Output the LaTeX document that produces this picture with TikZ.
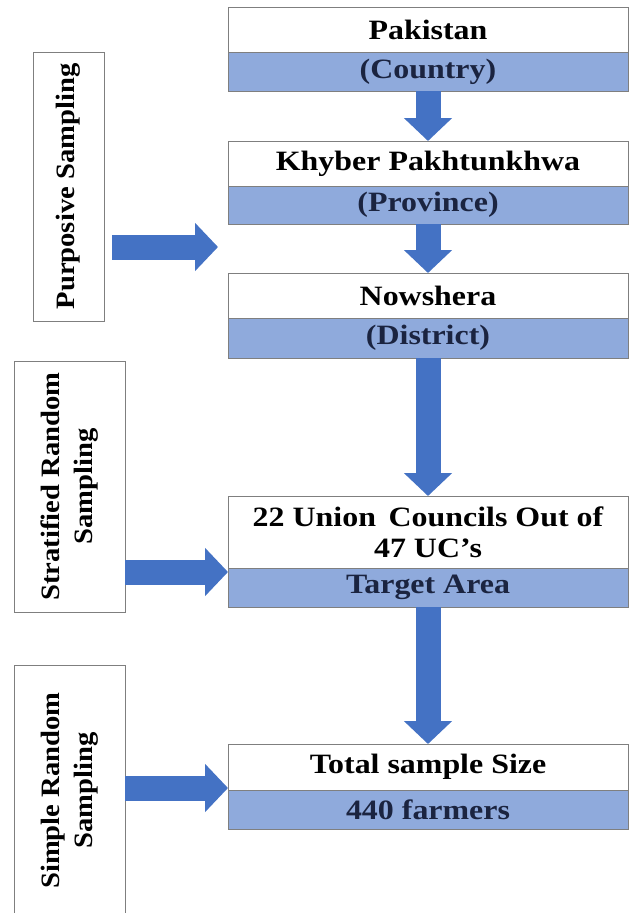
\documentclass[tikz,border=0pt]{standalone}
\usepackage{fontspec}
\setmainfont{Liberation Serif}
\newfontfamily\stagefont{Liberation Serif}[FakeStretch=1.14]
\newfontfamily\methodfont{Liberation Serif}[FakeStretch=1.08]
\usetikzlibrary{arrows.meta, calc}

\definecolor{bandblue}{HTML}{8FAADC}
\definecolor{flowblue}{HTML}{4472C4}
\definecolor{edgegray}{HTML}{7F7F7F}
\definecolor{bandtext}{HTML}{1B2440}

\tikzset{
  stage/.style={draw=edgegray, line width=1pt, fill=white, text=black, minimum width=400pt,
    inner sep=0pt, outer sep=0pt, align=center, font=\stagefont\bfseries\fontsize{28}{31}\selectfont},
  band/.style={stage, fill=bandblue, text=bandtext},
  method/.style={draw=edgegray, line width=1pt, fill=white, inner sep=0pt, outer sep=0pt,
    align=center, rotate=90, font=\methodfont\bfseries\fontsize{26.5}{33}\selectfont},
  flow/.style={flowblue, line width=25pt, -{Triangle[width=47pt, length=23pt]}},
}

\begin{document}
\begin{tikzpicture}[x=1pt, y=-1pt]

  \useasboundingbox (0, 0) rectangle (634, 913);

  \node[stage, minimum height=45pt] (pak) at (428, 29.5) {Pakistan};
  \node[band, minimum height=39pt] (pakb) at (428, 71.5) {(Country)};
  \node[stage, minimum height=45pt] (khy) at (428, 163.5) {Khyber Pakhtunkhwa};
  \node[band, minimum height=38pt] (khyb) at (428, 205) {(Province)};
  \node[stage, minimum height=45pt] (now) at (428, 295.5) {Nowshera};
  \node[band, minimum height=40pt] (nowb) at (428, 338) {(District)};
  \node[stage, minimum height=72pt] (uc) at (428, 532) {22 Union\, Councils Out of\\47 UC’s};
  \node[band, minimum height=39pt] (ucb) at (428, 587.5) {Target Area};
  \node[stage, minimum height=46pt] (tot) at (428, 767) {Total sample Size};
  \node[band, minimum height=39pt] (totb) at (428, 809.5) {440 farmers};

  \node[method, minimum width=269pt, minimum height=71pt] (pur) at (68.5, 186.5) {Purposive Sampling};
  \node[method, minimum width=251pt, minimum height=111pt] (str) at (69.5, 486.5) {Stratified Random\\Sampling};
  \node[method, minimum width=251pt, minimum height=111pt] (smp) at (69.5, 790.5) {Simple Random\\Sampling};

  \coordinate (purtip) at (218, 247);
  \coordinate (strtip) at (228, 572);
  \coordinate (smptip) at (228, 788);

  \draw[flow] (pakb) -- (khy);
  \draw[flow] (khyb) -- (now);
  \draw[flow] (nowb) -- (uc);
  \draw[flow] (ucb) -- (tot);

  \draw[flow] ($(pur.south |- purtip) + (8, 0)$) -- (purtip);
  \draw[flow] (str.south |- strtip) -- (strtip);
  \draw[flow] (smp.south |- smptip) -- (smptip);

\end{tikzpicture}
\end{document}
